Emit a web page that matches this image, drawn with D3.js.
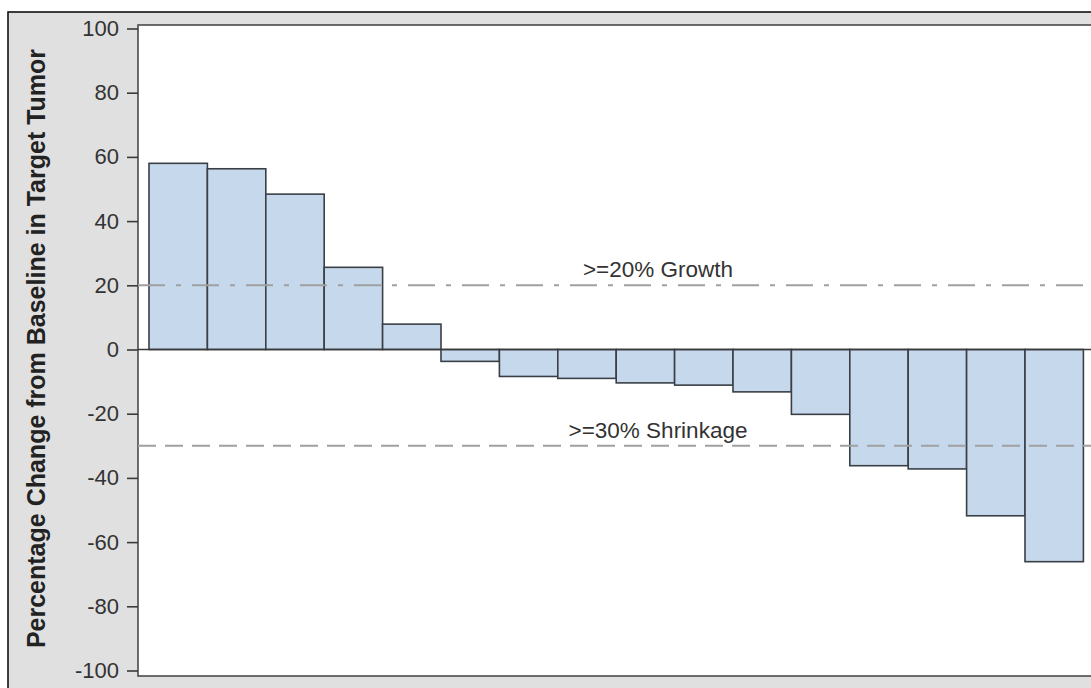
<!DOCTYPE html>
<html>
<head>
<meta charset="utf-8">
<script src="https://cdn.jsdelivr.net/npm/d3@7"></script>
<style>
  body { margin: 0; background: #fff; }
  svg { display: block; font-family: "Liberation Sans", Arial, sans-serif; }
</style>
</head>
<body>
<div id="chart"></div>
<script>
// Per-patient best change from baseline, sorted descending
const patients = ["P01","P02","P03","P04","P05","P06","P07","P08","P09","P10","P11","P12","P13","P14","P15","P16"];
const pctChange = [58.0, 56.3, 48.4, 25.6, 7.9, -3.7, -8.4, -9.0, -10.4, -11.1, -13.2, -20.2, -36.2, -37.2, -51.8, -66.1];
const yTicks = [-100, -80, -60, -40, -20, 0, 20, 40, 60, 80, 100];
const refValues = [20, -30];
const refLabels = [">=20% Growth", ">=30% Shrinkage"];

class WaterfallChart {
  constructor(_config) {
    this.config = {
      parentElement: _config.parentElement,
      containerWidth: 1091,
      containerHeight: 688,
      frame: { left: 8, top: 12 },
      plot: { left: 138, top: 25, right: 1097, bottom: 676 },
      barFill: "#c6d8ec",
      barStroke: "#3a3f46",
      refStroke: "#a0a0a0"
    };
    this.initVis();
  }

  initVis() {
    let vis = this;
    const c = vis.config;

    vis.svg = d3.select(c.parentElement)
      .append("svg")
      .attr("width", c.containerWidth)
      .attr("height", c.containerHeight);

    // gray wall behind the graph, with a black frame
    vis.svg.append("rect")
      .attr("x", c.frame.left)
      .attr("y", c.frame.top)
      .attr("width", c.containerWidth + 20)
      .attr("height", c.containerHeight + 20)
      .attr("fill", "#e0e0e0")
      .attr("stroke", "#111")
      .attr("stroke-width", 1.6);

    // white data area
    vis.svg.append("rect")
      .attr("x", c.plot.left)
      .attr("y", c.plot.top)
      .attr("width", c.plot.right - c.plot.left)
      .attr("height", c.plot.bottom - c.plot.top)
      .attr("fill", "#fff")
      .attr("stroke", "#4a4a4a")
      .attr("stroke-width", 1.6);

    vis.x = d3.scaleBand()
      .domain(patients)
      .range([149, 1083.4])
      .padding(0);

    vis.y = d3.scaleLinear()
      .domain([-100, 100])
      .range([670.5, 28.5]);

    vis.renderVis();
  }

  renderVis() {
    let vis = this;
    const c = vis.config;

    // bars
    vis.svg.selectAll(".bar")
      .data(pctChange)
      .join("rect")
      .attr("class", "bar")
      .attr("x", (d, i) => vis.x(patients[i]))
      .attr("width", vis.x.bandwidth())
      .attr("y", d => vis.y(Math.max(0, d)))
      .attr("height", d => Math.abs(vis.y(d) - vis.y(0)))
      .attr("fill", c.barFill)
      .attr("stroke", c.barStroke)
      .attr("stroke-width", 1.6);

    // zero line
    vis.svg.append("line")
      .attr("x1", c.plot.left)
      .attr("x2", c.plot.right)
      .attr("y1", vis.y(0))
      .attr("y2", vis.y(0))
      .attr("stroke", "#3a3a3a")
      .attr("stroke-width", 1.6);

    // reference lines sit on top of the bars
    const dashes = ["27,11,5,11", "18,9"];
    vis.svg.selectAll(".ref-line")
      .data(refValues)
      .join("line")
      .attr("class", "ref-line")
      .attr("x1", c.plot.left)
      .attr("x2", c.plot.right)
      .attr("y1", d => vis.y(d))
      .attr("y2", d => vis.y(d))
      .attr("stroke", c.refStroke)
      .attr("stroke-width", 2)
      .attr("stroke-dasharray", (d, i) => dashes[i]);

    vis.svg.selectAll(".ref-label")
      .data(refValues)
      .join("text")
      .attr("class", "ref-label")
      .attr("x", 658)
      .attr("y", d => vis.y(d) - 8)
      .attr("text-anchor", "middle")
      .attr("fill", "#333")
      .style("font-size", "22.5px")
      .text((d, i) => refLabels[i]);

    // y axis
    const yAxis = d3.axisLeft(vis.y)
      .tickValues(yTicks)
      .tickFormat(d => String(d))
      .tickSize(11)
      .tickPadding(8);

    const gy = vis.svg.append("g")
      .attr("transform", `translate(${c.plot.left},0)`)
      .call(yAxis);
    gy.select(".domain").remove();
    gy.selectAll(".tick line").attr("stroke", "#3a3a3a").attr("stroke-width", 1.6);
    gy.selectAll(".tick text")
      .attr("fill", "#333")
      .style("font-size", "22px")
      .style("font-family", "'Liberation Sans', Arial, sans-serif");

    vis.svg.append("text")
      .attr("transform", `translate(45,${(c.plot.top + c.plot.bottom) / 2 - 2}) rotate(-90)`)
      .attr("text-anchor", "middle")
      .attr("fill", "#222")
      .style("font-size", "25px")
      .style("font-weight", "bold")
      .text("Percentage Change from Baseline in Target Tumor");
  }
}

new WaterfallChart({ parentElement: "#chart" });
</script>
</body>
</html>
